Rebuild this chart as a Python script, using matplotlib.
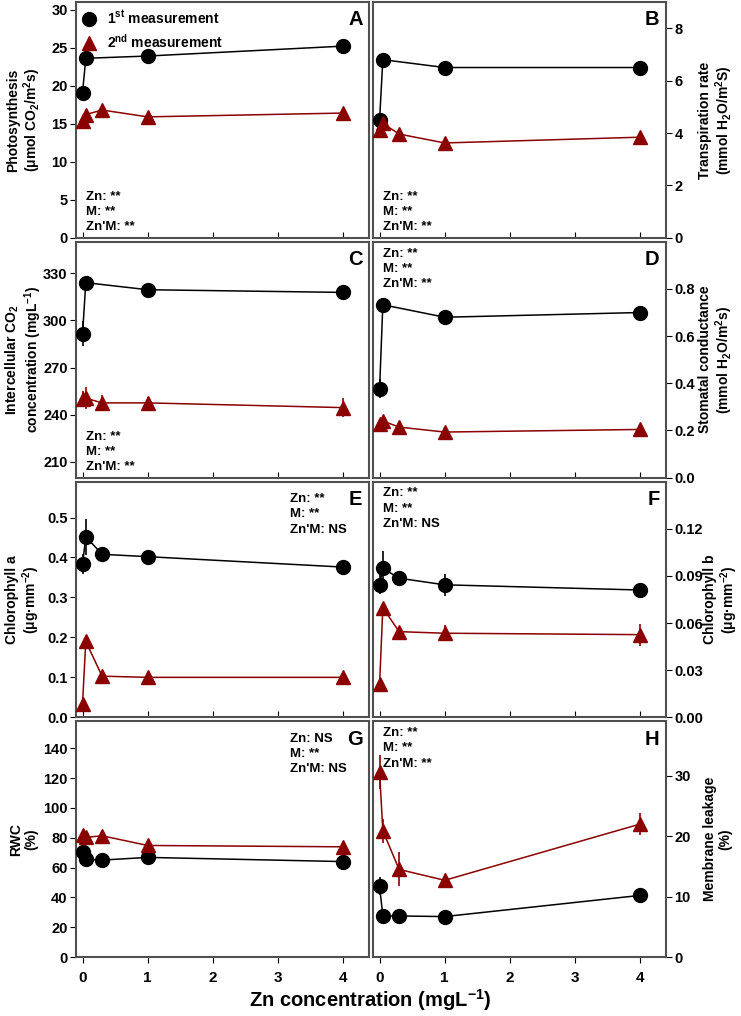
import numpy as np
import matplotlib
matplotlib.use("Agg")
import matplotlib.pyplot as plt

plt.rcParams['font.family'] = ['Liberation Sans', 'DejaVu Sans']
plt.rcParams['font.weight'] = 'bold'
plt.rcParams['mathtext.fontset'] = 'custom'
plt.rcParams['mathtext.rm'] = 'Liberation Sans:bold'
plt.rcParams['mathtext.it'] = 'Liberation Sans:bold'
plt.rcParams['mathtext.bf'] = 'Liberation Sans:bold'
plt.rcParams['mathtext.default'] = 'rm'

# Data
zn = [0, 0.05, 0.3, 1, 4]
nan = np.nan

photo_1 = [19.1, 23.6, nan, 23.9, 25.2]
photo_2 = [15.3, 16.2, 16.8, 15.9, 16.4]
trans_1 = [4.5, 6.8, nan, 6.5, 6.5]
trans_2 = [4.1, 4.37, 3.96, 3.62, 3.84]
ci_1 = [291.5, 324, nan, 319.5, 317.8]
ci_2 = [250, 250.5, 247.5, 247.5, 244.5]
gs_1 = [0.376, 0.733, nan, 0.68, 0.70]
gs_2 = [0.228, 0.24, 0.214, 0.193, 0.204]
chla_1 = [0.383, 0.452, 0.408, 0.402, 0.376]
chla_2 = [0.034, 0.19, 0.103, 0.100, 0.100]
chlb_1 = [0.0843, 0.0948, 0.0885, 0.0843, 0.081]
chlb_2 = [0.0212, 0.0697, 0.0545, 0.0535, 0.0526]
rwc_1 = [70.5, 65.5, 65, 66.8, 64]
rwc_2 = [81.7, 80.2, 81.3, 74.8, 73.9]
leak_1 = [11.7, 6.8, 6.8, 6.7, 10.2]
leak_2 = [30.6, 20.9, 14.5, 12.7, 22.0]

# error bars (SE)
photo_1e = [0.3, 0.3, nan, 0.3, 0.3]
photo_2e = [0.3, 0.3, 0.3, 0.3, 0.3]
trans_1e = [0.1, 0.1, nan, 0.1, 0.1]
trans_2e = [0.2, 0.1, 0.1, 0.1, 0.1]
ci_1e = [8, 3, nan, 2, 2]
ci_2e = [5, 7, 5, 4, 6]
gs_1e = [0.04, 0.03, nan, 0.01, 0.01]
gs_2e = [0.01, 0.015, 0.01, 0.01, 0.01]
chla_1e = [0.025, 0.045, 0.01, 0.012, 0.008]
chla_2e = [0.005, 0.01, 0.005, 0.005, 0.005]
chlb_1e = [0.006, 0.011, 0.004, 0.007, 0.002]
chlb_2e = [0.003, 0.003, 0.002, 0.005, 0.007]
rwc_1e = [3, 5, 2, 2, 2]
rwc_2e = [2, 2, 2, 2, 2]
leak_1e = [1.5, 0.5, 0.5, 0.5, 0.5]
leak_2e = [2.8, 2.0, 2.8, 1.0, 1.8]

panels = [
    ("A", photo_1, photo_1e, photo_2, photo_2e, (0, 31), np.arange(0, 31, 5), "%d",
     "Photosynthesis\n(μmol CO$_2$/m$^2$s)", "Zn: **\nM: **\nZn'M: **", "bl", -0.113),
    ("B", trans_1, trans_1e, trans_2, trans_2e, (0, 9), np.arange(0, 9, 2), "%d",
     "Transpiration rate\n(mmol H$_2$O/m$^2$S)", "Zn: **\nM: **\nZn'M: **", "bl", 1.11),
    ("C", ci_1, ci_1e, ci_2, ci_2e, (200, 350), np.arange(210, 331, 30), "%d",
     "Intercellular CO$_2$\nconcentration (mgL$^{-1}$)", "Zn: **\nM: **\nZn'M: **", "bl", -0.11),
    ("D", gs_1, gs_1e, gs_2, gs_2e, (0, 1.0), np.arange(0, 0.81, 0.2), "%.1f",
     "Stomatal conductance\n(mmol H$_2$O/m$^2$s)", "Zn: **\nM: **\nZn'M: **", "tl", 1.11),
    ("E", chla_1, chla_1e, chla_2, chla_2e, (0, 0.59), np.arange(0, 0.51, 0.1), "%.1f",
     "Chlorophyll a\n(μg·mm$^{-2}$)", "Zn: **\nM: **\nZn'M: NS", "tr", -0.115),
    ("F", chlb_1, chlb_1e, chlb_2, chlb_2e, (0, 0.15), np.arange(0, 0.121, 0.03), "%.2f",
     "Chlorophyll b\n(μg·mm$^{-2}$)", "Zn: **\nM: **\nZn'M: NS", "tl", 1.127),
    ("G", rwc_1, rwc_1e, rwc_2, rwc_2e, (0, 158), np.arange(0, 141, 20), "%d",
     "RWC\n(%)", "Zn: NS\nM: **\nZn'M: NS", "tr", -0.128),
    ("H", leak_1, leak_1e, leak_2, leak_2e, (0, 39), np.arange(0, 31, 10), "%d",
     "Membrane leakage\n(%)", "Zn: **\nM: **\nZn'M: **", "tl", 1.127),
]

red = '#8B0000'
fig, axes = plt.subplots(4, 2, figsize=(7.41, 10.16), dpi=100)
plt.subplots_adjust(left=0.1026, right=0.8988, top=0.998, bottom=0.058,
                    wspace=0.014, hspace=0.017)

x = np.array(zn)
for i, (ax, p) in enumerate(zip(axes.flat, panels)):
    letter, y1, e1, y2, e2, ylim, yt, fmt, ylab, note, pos, labx = p
    right = (i % 2 == 1)
    bottom_row = (i >= 6)
    for y, e, mk, col, lab in [(y1, e1, 'o', 'black', '1$^{st}$ measurement'),
                               (y2, e2, '^', red, '2$^{nd}$ measurement')]:
        y = np.array(y, dtype=float)
        e = np.array(e, dtype=float)
        m = ~np.isnan(y)
        ax.errorbar(x[m], y[m], yerr=e[m], fmt='none', ecolor=col, elinewidth=1.2, capsize=0, zorder=2)
        ax.plot(x[m], y[m], '-', color=col, lw=1.1, marker=mk, ms=10 if mk == 'o' else 10.5,
                mfc=col, mec=col, label=lab, zorder=3)
    ax.set_xlim(-0.1, 4.4)
    ax.set_ylim(*ylim)
    ax.set_yticks(yt)
    ax.set_yticklabels([fmt % v for v in yt], fontsize=10.5, fontweight='bold')
    ax.set_xticks([0, 1, 2, 3, 4])
    if bottom_row:
        ax.set_xticklabels(['0', '1', '2', '3', '4'], fontsize=11, fontweight='bold')
        ax.tick_params(axis='x', direction='out', length=4, pad=6)
    else:
        ax.set_xticklabels([])
        ax.tick_params(axis='x', direction='in', length=4)
    if right:
        ax.yaxis.tick_right()
        ax.yaxis.set_label_position('right')
        ax.set_ylabel(ylab, fontsize=10, fontweight='bold', rotation=90, linespacing=1.1)
    else:
        ax.set_ylabel(ylab, fontsize=10, fontweight='bold', linespacing=1.1)
    ax.yaxis.set_label_coords(labx, 0.5)
    ax.tick_params(axis='y', direction='out', length=4, pad=2)
    for s in ax.spines.values():
        s.set_color('#505050')
        s.set_linewidth(1.5)
    ax.text(0.978, 0.965, letter, transform=ax.transAxes, ha='right', va='top',
            fontsize=14.5, fontweight='bold')
    if pos == 'bl':
        ax.text(0.035, 0.02, note, transform=ax.transAxes, ha='left', va='bottom',
                fontsize=9.5, fontweight='bold', linespacing=1.35)
    elif pos == 'tl':
        ax.text(0.035, 0.975, note, transform=ax.transAxes, ha='left', va='top',
                fontsize=9.5, fontweight='bold', linespacing=1.35)
    else:
        ax.text(0.73, 0.95, note, transform=ax.transAxes, ha='left', va='top',
                fontsize=9.5, fontweight='bold', linespacing=1.35)
    if letter == 'A':
        ax.legend(loc='upper left', frameon=False, handlelength=0.9,
                  handletextpad=0.8, borderaxespad=0.2, borderpad=0.3, labelspacing=0.45,
                  prop={'weight': 'bold', 'size': 10})
        for ln in ax.get_legend().get_lines():
            ln.set_linestyle('none')

fig.text(0.5, 0.016, 'Zn concentration (mgL$^{-1}$)', ha='center', va='center',
         fontsize=14.5, fontweight='bold')

plt.savefig('out.png', dpi=100)
